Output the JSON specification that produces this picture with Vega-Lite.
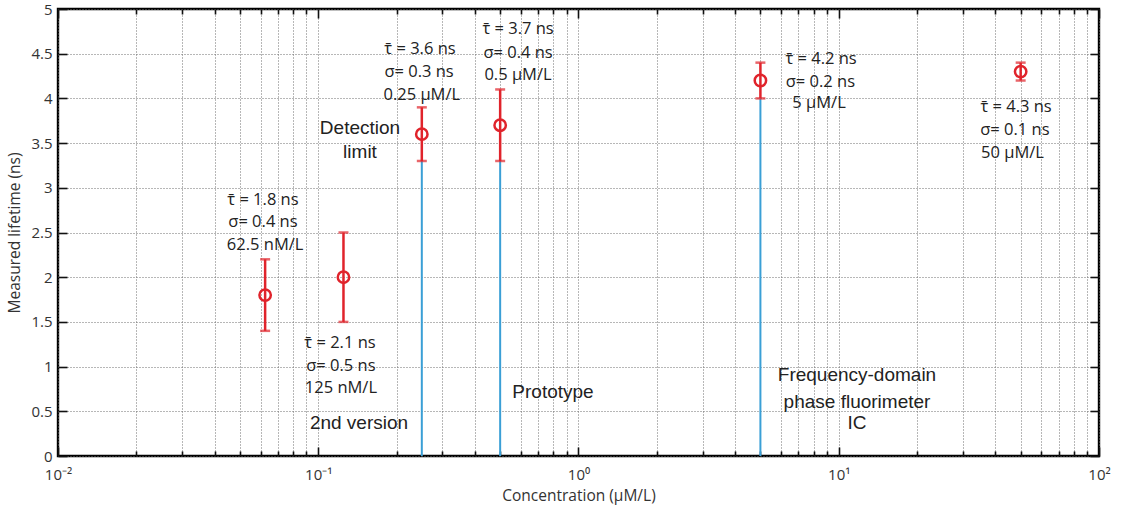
{
  "$schema": "https://vega.github.io/schema/vega-lite/v6.json",
  "width": 1041,
  "height": 447,
  "autosize": {"type": "none"},
  "padding": {"left": 58, "top": 9, "right": 26, "bottom": 56},
  "background": "white",
  "config": {
    "view": {"stroke": "#000", "strokeWidth": 2.4},
    "axis": {"domain": false, "labelFont": "Open Sans", "titleFont": "Open Sans", "labelColor": "#333", "titleColor": "#333", "tickColor": "#111", "tickWidth": 1.6, "gridColor": "#6f6f6f", "gridDash": [1, 2], "gridWidth": 1}
  },
  "datasets": {
    "pts": [
      {"conc": 0.0625, "tau": 1.8, "lo": 1.4, "hi": 2.2},
      {"conc": 0.125, "tau": 2.0, "lo": 1.5, "hi": 2.5},
      {"conc": 0.25, "tau": 3.6, "lo": 3.3, "hi": 3.9},
      {"conc": 0.5, "tau": 3.7, "lo": 3.3, "hi": 4.1},
      {"conc": 5, "tau": 4.2, "lo": 4.0, "hi": 4.4},
      {"conc": 50, "tau": 4.3, "lo": 4.2, "hi": 4.4}
    ],
    "lines": [
      {"conc": 0.25, "top": 3.3},
      {"conc": 0.5, "top": 3.3},
      {"conc": 5, "top": 4.0}
    ],
    "notesA": [
      {"x": 0.0613, "y": 2.86, "label": "τ̄ = 1.8 ns"},
      {"x": 0.0613, "y": 2.617, "label": "σ= 0.4 ns"},
      {"x": 0.0625, "y": 2.36, "label": "62.5 nM/L"},
      {"x": 0.1212, "y": 1.26, "label": "τ̄ = 2.1 ns"},
      {"x": 0.1222, "y": 1.007, "label": "σ= 0.5 ns"},
      {"x": 0.1222, "y": 0.761, "label": "125 nM/L"},
      {"x": 0.246, "y": 4.55, "label": "τ̄ = 3.6 ns"},
      {"x": 0.244, "y": 4.29, "label": "σ= 0.3 ns"},
      {"x": 0.25, "y": 4.038, "label": "0.25 μM/L"},
      {"x": 0.5856, "y": 4.775, "label": "τ̄ = 3.7 ns"},
      {"x": 0.5856, "y": 4.508, "label": "σ= 0.4 ns"},
      {"x": 0.5856, "y": 4.262, "label": "0.5 μM/L"},
      {"x": 8.55, "y": 4.44, "label": "τ̄ = 4.2 ns"},
      {"x": 8.5, "y": 4.183, "label": "σ= 0.2 ns"},
      {"x": 8.4, "y": 3.949, "label": "5 μM/L"},
      {"x": 48.0, "y": 3.9, "label": "τ̄ = 4.3 ns"},
      {"x": 47.5, "y": 3.647, "label": "σ= 0.1 ns"},
      {"x": 46.5, "y": 3.389, "label": "50 μM/L"}
    ],
    "notesB": [
      {"x": 0.1447, "y": 3.669, "label": "Detection"},
      {"x": 0.1447, "y": 3.4, "label": "limit"},
      {"x": 0.1434, "y": 0.369, "label": "2nd version"},
      {"x": 0.798, "y": 0.716, "label": "Prototype"},
      {"x": 11.75, "y": 0.906, "label": "Frequency-domain"},
      {"x": 11.75, "y": 0.604, "label": "phase fluorimeter"},
      {"x": 11.75, "y": 0.369, "label": "IC"}
    ]
  },
  "resolve": {"axis": {"x": "independent", "y": "independent"}},
  "layer": [
    {
      "data": {"name": "lines"},
      "mark": {"type": "rule", "color": "#3a9fd6", "strokeWidth": 2},
      "encoding": {
        "x": {
          "field": "conc", "type": "quantitative",
          "scale": {"type": "log", "domain": [0.01, 100], "nice": false},
          "axis": {
            "orient": "bottom",
            "title": "Concentration (μM/L)",
            "titleFontSize": 15.5, "titleFontWeight": "normal", "titlePadding": 2,
            "values": [0.01, 0.02, 0.03, 0.04, 0.05, 0.06, 0.07, 0.08, 0.09, 0.1, 0.2, 0.3, 0.4, 0.5, 0.6, 0.7, 0.8, 0.9, 1, 2, 3, 4, 5, 6, 7, 8, 9, 10, 20, 30, 40, 50, 60, 70, 80, 90, 100],
            "grid": true,
            "tickSize": {"condition": {"test": "datum.value==0.01||datum.value==0.1||datum.value==1||datum.value==10||datum.value==100", "value": -9}, "value": -5},
            "labelExpr": "datum.value==0.01?'10⁻²':datum.value==0.1?'10⁻¹':datum.value==1?'10⁰':datum.value==10?'10¹':datum.value==100?'10²':''",
            "labelFontSize": 15, "labelPadding": 20, "labelFlush": false, "labelOverlap": false
          }
        },
        "y": {
          "field": "top", "type": "quantitative",
          "scale": {"domain": [0, 5], "nice": false},
          "axis": {
            "orient": "left",
            "title": "Measured lifetime (ns)",
            "titleFontSize": 15.5, "titleFontWeight": "normal", "titlePadding": 8,
            "values": [0, 0.5, 1, 1.5, 2, 2.5, 3, 3.5, 4, 4.5, 5],
            "format": "~g",
            "grid": true,
            "tickSize": -9,
            "labelFontSize": 15, "labelPadding": 15, "labelFlush": false, "labelOverlap": false
          }
        },
        "y2": {"datum": 0}
      }
    },
    {
      "data": {"name": "pts"},
      "mark": {"type": "rule", "color": "#e0232b", "strokeWidth": 2.5},
      "encoding": {
        "x": {
          "field": "conc", "type": "quantitative",
          "axis": {
            "orient": "top", "title": null, "labels": false, "grid": false,
            "values": [0.01, 0.02, 0.03, 0.04, 0.05, 0.06, 0.07, 0.08, 0.09, 0.1, 0.2, 0.3, 0.4, 0.5, 0.6, 0.7, 0.8, 0.9, 1, 2, 3, 4, 5, 6, 7, 8, 9, 10, 20, 30, 40, 50, 60, 70, 80, 90, 100],
            "tickSize": {"condition": {"test": "datum.value==0.01||datum.value==0.1||datum.value==1||datum.value==10||datum.value==100", "value": -9}, "value": -5}
          }
        },
        "y": {
          "field": "lo", "type": "quantitative",
          "axis": {
            "orient": "right", "title": null, "labels": false, "grid": false,
            "values": [0, 0.5, 1, 1.5, 2, 2.5, 3, 3.5, 4, 4.5, 5],
            "tickSize": -9
          }
        },
        "y2": {"field": "hi"}
      }
    },
    {
      "data": {"name": "pts"},
      "mark": {"type": "tick", "orient": "horizontal", "color": "#e0232b", "size": 10, "thickness": 2.5},
      "encoding": {
        "x": {"field": "conc", "type": "quantitative", "axis": null},
        "y": {"field": "lo", "type": "quantitative", "axis": null}
      }
    },
    {
      "data": {"name": "pts"},
      "mark": {"type": "tick", "orient": "horizontal", "color": "#e0232b", "size": 10, "thickness": 2.5},
      "encoding": {
        "x": {"field": "conc", "type": "quantitative", "axis": null},
        "y": {"field": "hi", "type": "quantitative", "axis": null}
      }
    },
    {
      "data": {"name": "pts"},
      "mark": {"type": "point", "shape": "circle", "filled": false, "color": "#e0232b", "size": 130, "strokeWidth": 2.5, "opacity": 1},
      "encoding": {
        "x": {"field": "conc", "type": "quantitative", "axis": null},
        "y": {"field": "tau", "type": "quantitative", "axis": null}
      }
    },
    {
      "data": {"name": "notesA"},
      "mark": {"type": "text", "font": "Open Sans", "fontSize": 16.5, "color": "#222", "align": "center", "baseline": "middle"},
      "encoding": {
        "x": {"field": "x", "type": "quantitative", "axis": null},
        "y": {"field": "y", "type": "quantitative", "axis": null},
        "text": {"field": "label"}
      }
    },
    {
      "data": {"name": "notesB"},
      "mark": {"type": "text", "font": "Liberation Sans", "fontSize": 19, "color": "#222", "align": "center", "baseline": "middle"},
      "encoding": {
        "x": {"field": "x", "type": "quantitative", "axis": null},
        "y": {"field": "y", "type": "quantitative", "axis": null},
        "text": {"field": "label"}
      }
    }
  ]
}
